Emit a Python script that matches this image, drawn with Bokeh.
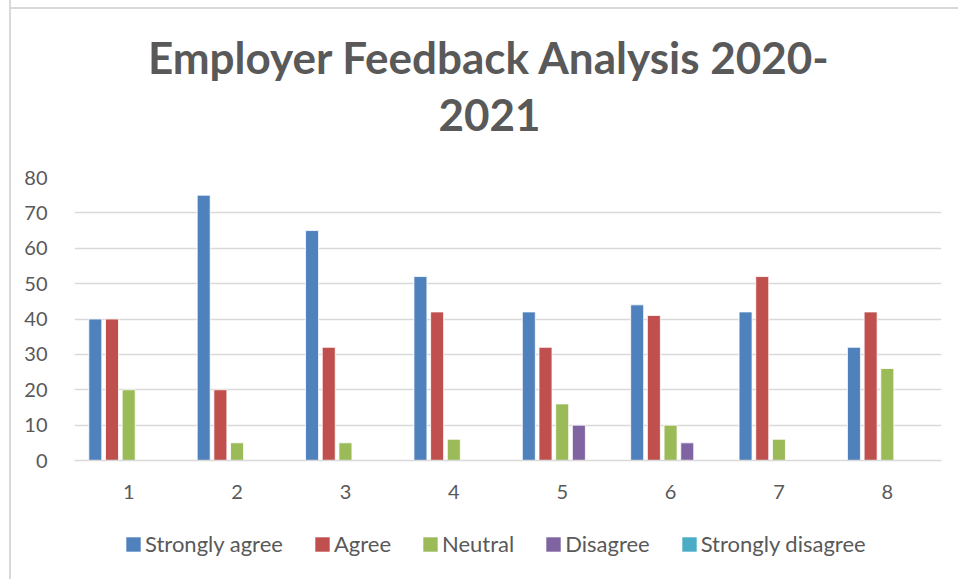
from bokeh.plotting import figure
from bokeh.models import (ColumnDataSource, FactorRange, Range1d, FixedTicker, Label,
                          Legend, LegendItem)
from bokeh.layouts import column
from bokeh.transform import dodge
from bokeh.embed import file_html
from bokeh.resources import INLINE

categories = ["1", "2", "3", "4", "5", "6", "7", "8"]
strongly_agree = [40, 75, 65, 52, 42, 44, 42, 32]
agree = [40, 20, 32, 42, 32, 41, 52, 42]
neutral = [20, 5, 5, 6, 16, 10, 6, 26]
disagree = [0, 0, 0, 0, 10, 5, 0, 0]
strongly_disagree = [0, 0, 0, 0, 0, 0, 0, 0]
series_names = ["Strongly agree", "Agree", "Neutral", "Disagree", "Strongly disagree"]
y_ticks = [0, 10, 20, 30, 40, 50, 60, 70, 80]
title_lines = ["Employer Feedback Analysis 2020-", "2021"]

colors = ["#4F81BD", "#C0504D", "#9BBB59", "#8064A2", "#4BACC6"]
TXT = "#595959"
GRID = "#d9d9d9"
FONT = "Lato"
W = 958
FL, FR = 74, 941          # frame left / right edges (pixels), shared by the column

LINE = "linear-gradient(#d9d9d9, #d9d9d9)"
def chart_border(top):
    parts = [LINE + " 9px 0px / 2px 100% no-repeat"]
    if top:
        parts.append(LINE + " 9px 7px / 100% 2px no-repeat")
    return {"background": ", ".join(parts) + ", white"}

def clear_fig(f):
    f.outline_line_color = None
    f.border_fill_alpha = 0
    f.background_fill_alpha = 0
    f.xgrid.grid_line_color = None
    f.ygrid.grid_line_color = None

# ---- title strip ----
TH = 150
t = figure(width=W, height=TH, x_range=Range1d(FL, FR), y_range=Range1d(TH, 0),
           x_axis_location=None, y_axis_location=None, min_border=0,
           output_backend="svg", toolbar_location=None)
clear_fig(t)
t.styles = chart_border(True)
for txt, ty in zip(title_lines, [56, 114]):
    t.add_layout(Label(x=489, y=ty, text=txt, text_align="center", text_baseline="middle",
                       text_font=FONT, text_font_size="44px", text_font_style="bold",
                       text_color=TXT))

# ---- main chart ----
src = ColumnDataSource(dict(cat=categories, sa=strongly_agree, a=agree, n=neutral,
                            d=disagree, sd=strongly_disagree))

p = figure(frame_width=FR - FL, frame_height=283,
           x_range=FactorRange(*categories, range_padding=0),
           y_range=Range1d(0, 80), output_backend="svg", toolbar_location=None,
           min_border_left=FL, min_border_right=W - FR, min_border_top=27,
           min_border_bottom=65)
p.outline_line_color = None
p.border_fill_alpha = 0
p.background_fill_color = "white"
p.styles = chart_border(False)

step = 0.154
cols = ["sa", "a", "n", "d", "sd"]
for i, (c, col) in enumerate(zip(cols, colors)):
    p.vbar(x=dodge("cat", (i - 2) * step, range=p.x_range), top=c, width=0.12,
           source=src, fill_color=col, line_color="white", line_width=0.8)

p.yaxis.ticker = FixedTicker(ticks=y_ticks)
p.yaxis.axis_line_color = None
p.yaxis.major_tick_line_color = None
p.yaxis.minor_tick_line_color = None
p.yaxis.major_label_text_font = FONT
p.yaxis.major_label_text_font_size = "20px"
p.yaxis.major_label_text_color = TXT
p.yaxis.major_label_standoff = 21

p.xaxis.axis_line_color = GRID
p.xaxis.axis_line_width = 1.5
p.xaxis.major_tick_line_color = None
p.xaxis.minor_tick_line_color = None
p.xaxis.major_label_text_font = FONT
p.xaxis.major_label_text_font_size = "20px"
p.xaxis.major_label_text_color = TXT
p.xaxis.major_label_standoff = 18

p.xgrid.grid_line_color = None
p.ygrid.grid_line_color = GRID
p.ygrid.grid_line_width = 1.5
p.ygrid.ticker = FixedTicker(ticks=y_ticks)

# ---- legend strip ----
LH = 54
lg = figure(width=W, height=LH, x_range=Range1d(0, 1), y_range=Range1d(0, 1),
            x_axis_location=None, y_axis_location=None, min_border=0,
            output_backend="svg", toolbar_location=None)
clear_fig(lg)
lg.styles = chart_border(False)
key_src = ColumnDataSource(dict(x=[0.5], zero=[0]))   # zero-height keys, only for the legend
items = []
for name, col in zip(series_names, colors):
    r = lg.vbar(x="x", top="zero", bottom="zero", width=0.01, source=key_src,
                fill_color=col, line_color=None)
    items.append(LegendItem(label=name, renderers=[r]))
legend = Legend(items=items, orientation="horizontal", location=(124 - FL, 22),
                label_text_font=FONT, label_text_font_size="22px", label_text_color=TXT,
                glyph_width=18, glyph_height=18, label_standoff=3, spacing=30,
                border_line_color=None, background_fill_alpha=0, margin=0, padding=0)
lg.add_layout(legend, "center")

layout = column(t, p, lg, spacing=0)
open("out.html", "w").write(file_html(layout, INLINE))
